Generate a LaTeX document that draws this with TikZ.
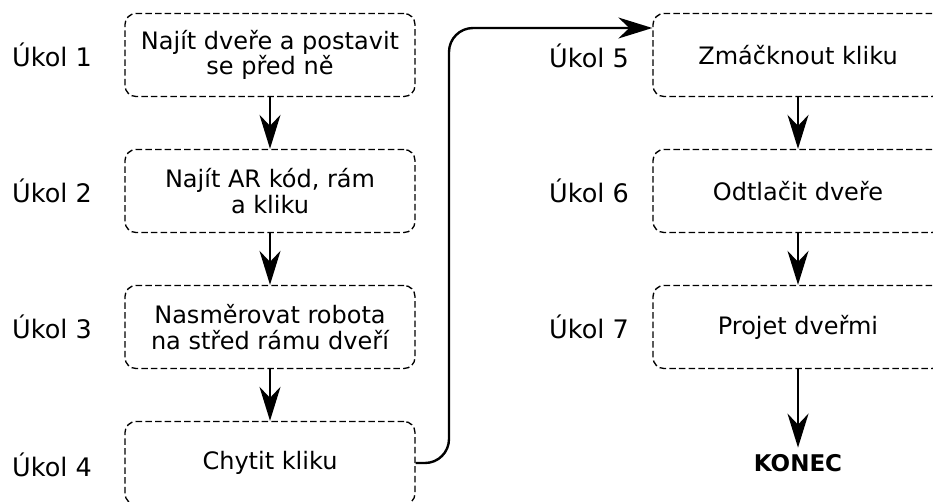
\documentclass[tikz,border=0pt]{standalone}
\usepackage{fontspec}
\setmainfont{DejaVu Sans}
\usetikzlibrary{arrows.meta}
\begin{document}
\begin{tikzpicture}[x=1pt, y=-1pt,
  task/.style={draw, line width=1.35pt, dash pattern=on 6.5pt off 3.2pt,
    rounded corners=11pt, minimum width=290pt, minimum height=83pt,
    align=center, font=\fontsize{24}{25.5}\selectfont},
  tasklabel/.style={anchor=base, font=\fontsize{25.5}{27}\selectfont},
  flow/.style={draw, line width=2.4pt,
    -{Stealth[length=34pt, width=21pt, inset=11pt]}},
  finish/.style={font=\fontsize{23}{26}\selectfont\bfseries, inner sep=7pt}]
\useasboundingbox (0,0) rectangle (933,501);

% left column
\node[task] (b1) at (270,55)  {Najít dveře a postavit\\se před ně};
\node[task] (b2) at (270,191) {Najít AR kód, rám\\a kliku};
\node[task] (b3) at (270,327) {Nasměrovat robota\\na střed rámu dveří};
\node[task] (b4) at (270,463) {Chytit kliku};

% right column
\node[task] (b5) at (798,55)  {Zmáčknout kliku};
\node[task] (b6) at (798,191) {Odtlačit dveře};
\node[task] (b7) at (798,327) {Projet dveřmi};
\node[finish] (end) at (798,463.5) {KONEC};

% task numbers
\node[tasklabel] (l1) at (52,66)  {Úkol 1};
\node[tasklabel] (l2) at (52,202) {Úkol 2};
\node[tasklabel] (l3) at (52,338) {Úkol 3};
\node[tasklabel] (l4) at (52,476) {Úkol 4};
\node[tasklabel] (l5) at (589,67)  {Úkol 5};
\node[tasklabel] (l6) at (589,202) {Úkol 6};
\node[tasklabel] (l7) at (589,338) {Úkol 7};

% connectors
\draw[flow] (b1.south) -- (b2.north);
\draw[flow] (b2.south) -- (b3.north);
\draw[flow] (b3.south) -- (b4.north);
\draw[flow] (b5.south) -- (b6.north);
\draw[flow] (b6.south) -- (b7.north);
\draw[flow] (b7.south) -- (end.north);

\coordinate (jog) at (449,28);
\draw[flow, rounded corners=24pt] (b4.east) -| (jog) -- (jog -| b5.west);
\end{tikzpicture}
\end{document}
